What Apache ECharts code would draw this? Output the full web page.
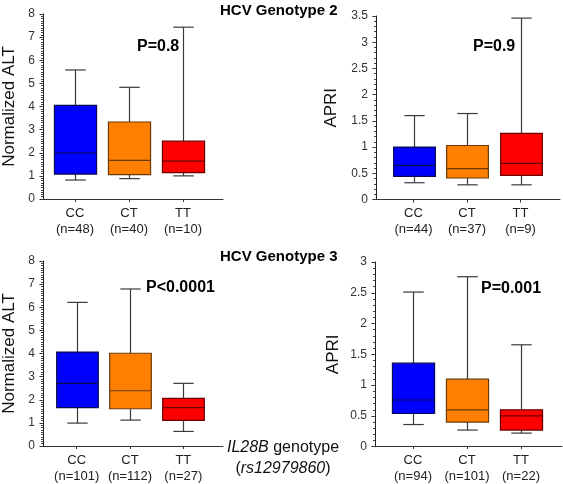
<!DOCTYPE html>
<html><head><meta charset="utf-8">
<script src="https://cdn.jsdelivr.net/npm/echarts@6/dist/echarts.min.js"></script>
<style>html,body{margin:0;padding:0;background:#fff}#c{width:563px;height:484px}</style>
</head><body><div id="c"></div>
<script>
// ---- data ----
const categories = ['CC', 'CT', 'TT'];
const nG2Alt = ['(n=48)', '(n=40)', '(n=10)'];
const nG2Apri = ['(n=44)', '(n=37)', '(n=9)'];
const nG3Alt = ['(n=101)', '(n=112)', '(n=27)'];
const nG3Apri = ['(n=94)', '(n=101)', '(n=22)'];
// [low whisker, Q1, median, Q3, high whisker]
const g2Alt = [[0.82, 1.08, 1.99, 4.05, 5.58], [0.88, 1.05, 1.67, 3.33, 4.83], [1.0, 1.14, 1.64, 2.5, 7.43]];
const g2Apri = [[0.32, 0.44, 0.65, 1.0, 1.6], [0.28, 0.41, 0.59, 1.03, 1.64], [0.28, 0.46, 0.69, 1.26, 3.46]];
const g3Alt = [[0.99, 1.66, 2.71, 4.06, 6.21], [1.12, 1.61, 2.39, 4.01, 6.79], [0.63, 1.11, 1.66, 2.06, 2.71]];
const g3Apri = [[0.35, 0.53, 0.75, 1.35, 2.51], [0.26, 0.39, 0.59, 1.09, 2.76], [0.21, 0.26, 0.49, 0.59, 1.65]];
const pG2Alt = 'P=0.8', pG2Apri = 'P=0.9', pG3Alt = 'P<0.0001', pG3Apri = 'P=0.001';
const altTicks = {min: 0, max: 8, interval: 1, minor: 0.1};
const apriTicks2 = {min: 0, max: 3.5, interval: 0.5, minor: 0.1};
const apriTicks3 = {min: 0, max: 3, interval: 0.5, minor: 0.1};

// ---- styles ----
const fills = ['#0000ff', '#ff8000', '#ff0000'];
const borders = ['#0a0a50', '#6b3a08', '#6a0000'];
const FONT = '"Liberation Sans", Arial, sans-serif';

const chart = echarts.init(document.getElementById('c'));

const panels = [
  {A: {left: 36, top: 14, width: 187, height: 185}, B: {left: 48, top: 14, width: 162, height: 185},
   data: g2Alt, n: nG2Alt, ticks: altTicks, name: 'Normalized ALT', gap: 25},
  {A: {left: 376, top: 16, width: 184, height: 183.5}, B: {left: 386.75, top: 16, width: 160.5, height: 183.5},
   data: g2Apri, n: nG2Apri, ticks: apriTicks2, name: 'APRI', gap: 36},
  {A: {left: 36, top: 261, width: 187, height: 185}, B: {left: 50, top: 261, width: 160, height: 185},
   data: g3Alt, n: nG3Alt, ticks: altTicks, name: 'Normalized ALT', gap: 25},
  {A: {left: 375, top: 262, width: 187, height: 184.7}, B: {left: 386, top: 262, width: 162, height: 184.7},
   data: g3Apri, n: nG3Apri, ticks: apriTicks3, name: 'APRI', gap: 33}
];

function renderBox(params, api) {
  const x = api.value(0);
  const p = [1, 2, 3, 4, 5].map(i => api.coord([x, api.value(i)]));
  const band = api.size([1, 0])[0];
  const bw = band * 0.78, cw = band * 0.38;
  const cx = Math.round(p[0][0]) + 0.5;
  const idx = params.dataIndex;
  const wStyle = {stroke: '#3a3a3a', lineWidth: 1.2, fill: null};
  const bStyle = {stroke: borders[idx], lineWidth: 1.2, fill: null};
  return {
    type: 'group',
    children: [
      {type: 'line', shape: {x1: cx, y1: p[4][1], x2: cx, y2: p[3][1]}, style: wStyle},
      {type: 'line', shape: {x1: cx, y1: p[0][1], x2: cx, y2: p[1][1]}, style: wStyle},
      {type: 'line', shape: {x1: cx - cw / 2, y1: p[4][1], x2: cx + cw / 2, y2: p[4][1]}, style: wStyle},
      {type: 'line', shape: {x1: cx - cw / 2, y1: p[0][1], x2: cx + cw / 2, y2: p[0][1]}, style: wStyle},
      {type: 'rect', shape: {x: cx - bw / 2, y: p[3][1], width: bw, height: p[1][1] - p[3][1]},
       style: {fill: fills[idx], stroke: borders[idx], lineWidth: 1.2}},
      {type: 'line', shape: {x1: cx - bw / 2, y1: p[2][1], x2: cx + bw / 2, y2: p[2][1]}, style: bStyle}
    ]
  };
}

const grid = [], xAxis = [], yAxis = [], series = [];
panels.forEach((pn, k) => {
  const gA = grid.length; grid.push(pn.A);
  const gB = grid.length; grid.push(pn.B);
  // grid A: frame axes
  xAxis.push({gridIndex: gA, type: 'value', min: 0, max: 1, axisLine: {show: true, lineStyle: {color: '#333', width: 1}},
    axisTick: {show: false}, axisLabel: {show: false}, splitLine: {show: false}});
  yAxis.push({gridIndex: gA, type: 'value', min: pn.ticks.min, max: pn.ticks.max, interval: pn.ticks.interval,
    name: pn.name, nameLocation: 'middle', nameGap: pn.gap,
    nameTextStyle: {fontFamily: FONT, fontSize: 17, color: '#111'},
    axisLine: {show: true, lineStyle: {color: '#222', width: 1}},
    axisTick: {show: true, length: 3.5, lineStyle: {color: '#222'}},
    axisLabel: {fontFamily: FONT, fontSize: 12, color: '#333', margin: 8},
    splitLine: {show: false}});
  // grid A: minor-tick axis (no labels)
  yAxis.push({gridIndex: gA, type: 'value', position: 'left', min: pn.ticks.min, max: pn.ticks.max,
    interval: pn.ticks.minor, axisLine: {show: false},
    axisTick: {show: true, length: 2, lineStyle: {color: '#444', width: 1}},
    axisLabel: {show: false}, splitLine: {show: false}});
  // grid B: category axis with boxes
  xAxis.push({gridIndex: gB, type: 'category', data: categories.map((c, i) => c + '\n' + pn.n[i]),
    axisLine: {show: false}, axisTick: {show: true, alignWithLabel: true, length: 3, lineStyle: {color: '#333'}},
    axisLabel: {fontFamily: FONT, fontSize: 13, color: '#222', margin: 6, lineHeight: 16, interval: 0}});
  const yB = yAxis.length;
  yAxis.push({gridIndex: gB, type: 'value', min: pn.ticks.min, max: pn.ticks.max, show: false});
  series.push({type: 'custom', xAxisIndex: xAxis.length - 1, yAxisIndex: yB, renderItem: renderBox,
    data: pn.data.map((v, i) => [i].concat(v)), clip: false, silent: true});
});

const pStyle = {font: 'bold 16px ' + FONT, fill: '#000', textVerticalAlign: 'middle'};
chart.setOption({
  animation: false,
  grid, xAxis, yAxis, series,
  graphic: [
    {type: 'text', left: 220, top: 3, style: {text: 'HCV Genotype 2', font: 'bold 15px ' + FONT, fill: '#000'}},
    {type: 'text', left: 220, top: 249, style: {text: 'HCV Genotype 3', font: 'bold 15px ' + FONT, fill: '#000'}},
    {type: 'text', x: 137, y: 47, style: Object.assign({text: pG2Alt}, pStyle)},
    {type: 'text', x: 473, y: 47, style: Object.assign({text: pG2Apri}, pStyle)},
    {type: 'text', x: 146, y: 288, style: Object.assign({text: pG3Alt}, pStyle)},
    {type: 'text', x: 481, y: 289, style: Object.assign({text: pG3Apri}, pStyle)},
    {type: 'text', x: 283, y: 437, style: {
      text: '{i|IL28B} genotype\n({i|rs12979860})', textAlign: 'center',
      font: '16px ' + FONT, fill: '#111', lineHeight: 21,
      rich: {i: {fontStyle: 'italic', fontFamily: FONT, fontSize: 16, fill: '#111'}}}}
  ]
});
</script></body></html>
